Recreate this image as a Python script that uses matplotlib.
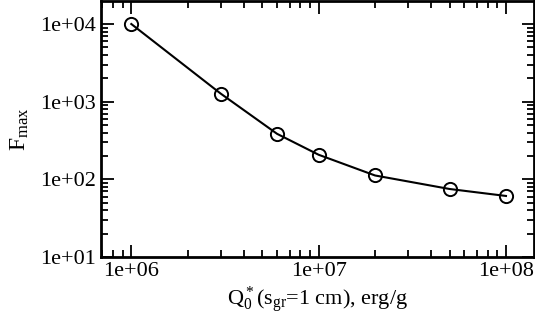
import matplotlib
matplotlib.use("Agg")
import matplotlib.pyplot as plt
from matplotlib.ticker import LogLocator, FuncFormatter

plt.rcParams['font.family'] = 'Liberation Serif'
plt.rcParams['mathtext.fontset'] = 'custom'
plt.rcParams['mathtext.rm'] = 'Liberation Serif'
plt.rcParams['mathtext.it'] = 'Liberation Serif:italic'

# data
q0 = [1e6, 3e6, 6e6, 1e7, 2e7, 5e7, 1e8]
fmax = [1.0e4, 1.27e3, 385, 207, 112, 75, 61]

fig = plt.figure(figsize=(5.35, 3.24), dpi=100)
ax = fig.add_axes([0.189, 0.207, 0.809, 0.790])

ax.plot(q0, fmax, "-", color="black", lw=1.5, marker="o", ms=9.5,
        mfc="none", mec="black", mew=1.4)

ax.set_xscale("log")
ax.set_yscale("log")
ax.set_xlim(6.9e5, 1.41e8)
ax.set_ylim(10, 1.98e4)

fmt = FuncFormatter(lambda v, p: "%.0e" % v)
ax.xaxis.set_major_locator(LogLocator(base=10, numticks=10))
ax.yaxis.set_major_locator(LogLocator(base=10, numticks=10))
ax.xaxis.set_minor_locator(LogLocator(base=10, subs=range(2, 10), numticks=10))
ax.yaxis.set_minor_locator(LogLocator(base=10, subs=range(2, 10), numticks=10))
ax.xaxis.set_major_formatter(fmt)
ax.yaxis.set_major_formatter(fmt)
ax.xaxis.set_minor_formatter(FuncFormatter(lambda v, p: ""))
ax.yaxis.set_minor_formatter(FuncFormatter(lambda v, p: ""))

ax.tick_params(which="both", direction="in", top=True, right=True,
               labelsize=16, width=1.3, color="black")
ax.tick_params(which="major", length=9, pad=4)
ax.tick_params(which="minor", length=5)
for s in ax.spines.values():
    s.set_linewidth(2)

ax.set_xlabel(r"Q$_0^*$(s$_{\mathrm{gr}}$=1 cm), erg/g", fontsize=16, labelpad=2)
ax.set_ylabel(r"F$_{\mathrm{max}}$", fontsize=17, labelpad=6)

fig.savefig("out.png", dpi=100)
